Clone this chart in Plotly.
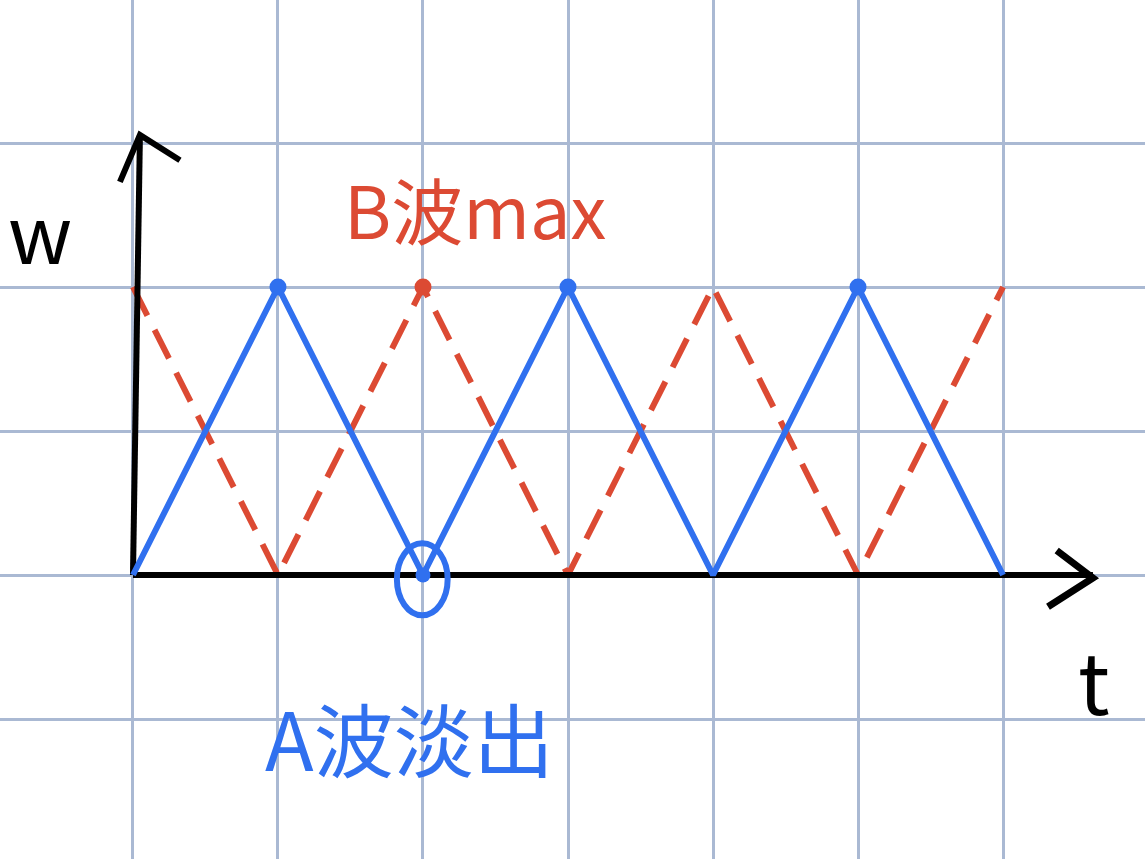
import plotly.graph_objects as go

# Data (grid units: t along x, w along y)
t_vals = [0, 1, 2, 3, 4, 5, 6]
wave_a = [0, 2, 0, 2, 0, 2, 0]   # blue solid (A)
wave_b = [2, 0, 2, 0, 2, 0, 2]   # red dashed (B)

# Axis sketch strokes
y_axis_x = [0, 0.048]
y_axis_y = [0, 3.056]
y_head_x = [-0.09, 0.048, 0.324]
y_head_y = [2.73, 3.056, 2.88]
x_axis_x = [0, 6.62]
x_axis_y = [0, 0]
x_head_x = [6.37, 6.62, 6.31]
x_head_y = [0.17, -0.02, -0.22]

BLUE = "#3070ef"
RED = "#dc4a33"
GRID = "#aab9d3"

fig = go.Figure()

fig.add_trace(go.Scatter(x=t_vals, y=wave_b, mode="lines",
                         line=dict(color=RED, width=6, dash="32px,16px"),
                         hoverinfo="skip"))
fig.add_trace(go.Scatter(x=y_axis_x, y=y_axis_y, mode="lines",
                         line=dict(color="black", width=6), hoverinfo="skip"))
fig.add_trace(go.Scatter(x=y_head_x, y=y_head_y, mode="lines",
                         line=dict(color="black", width=6), hoverinfo="skip"))
fig.add_trace(go.Scatter(x=x_axis_x, y=x_axis_y, mode="lines",
                         line=dict(color="black", width=6), hoverinfo="skip"))
fig.add_trace(go.Scatter(x=x_head_x, y=x_head_y, mode="lines",
                         line=dict(color="black", width=7), hoverinfo="skip"))
fig.add_trace(go.Scatter(x=t_vals, y=wave_a, mode="lines",
                         line=dict(color=BLUE, width=6),
                         hoverinfo="skip"))

# peak dots
peak_a_x = [t for t, w in zip(t_vals, wave_a) if w == 2]
peak_a_y = [w for w in wave_a if w == 2]
fig.add_trace(go.Scatter(x=peak_a_x, y=peak_a_y, mode="markers",
                         marker=dict(color=BLUE, size=17), hoverinfo="skip"))
fig.add_trace(go.Scatter(x=[t_vals[2]], y=[wave_b[2]], mode="markers",
                         marker=dict(color=RED, size=17), hoverinfo="skip"))
fig.add_trace(go.Scatter(x=[t_vals[2]], y=[wave_a[2]], mode="markers",
                         marker=dict(color=BLUE, size=15), hoverinfo="skip"))

# ellipse around A fade-out point
fig.add_shape(type="circle", xref="x", yref="y",
              x0=1.82, x1=2.17, y0=-0.28, y1=0.22,
              line=dict(color=BLUE, width=6))

FONT = "Noto Sans CJK SC"
fig.add_annotation(x=-0.64, y=2.4, text="w", showarrow=False,
                   font=dict(family=FONT, size=80, color="black"))
fig.add_annotation(x=6.63, y=-0.72, text="t", showarrow=False,
                   font=dict(family=FONT, size=84, color="black"))
fig.add_annotation(x=2.36, y=2.55, text="B波max", showarrow=False,
                   font=dict(family=FONT, size=72, color=RED))
fig.add_annotation(x=1.91, y=-1.12, text="A波淡出", showarrow=False,
                   font=dict(family=FONT, size=80, color=BLUE))

fig.update_layout(
    width=1145, height=859,
    margin=dict(l=0, r=0, t=0, b=0),
    paper_bgcolor="white", plot_bgcolor="white",
    showlegend=False,
    xaxis=dict(range=[-0.917, 6.979], dtick=1, tick0=0, showgrid=True,
               gridcolor=GRID, gridwidth=3, zeroline=False,
               showticklabels=False, ticks="", fixedrange=True),
    yaxis=dict(range=[-1.972, 3.993], dtick=1, tick0=0, showgrid=True,
               gridcolor=GRID, gridwidth=3, zeroline=False,
               showticklabels=False, ticks="", fixedrange=True),
)

fig.write_html("out.html", config={"displayModeBar": False},
               post_script="document.body.style.margin='0';document.body.style.overflow='hidden';")
